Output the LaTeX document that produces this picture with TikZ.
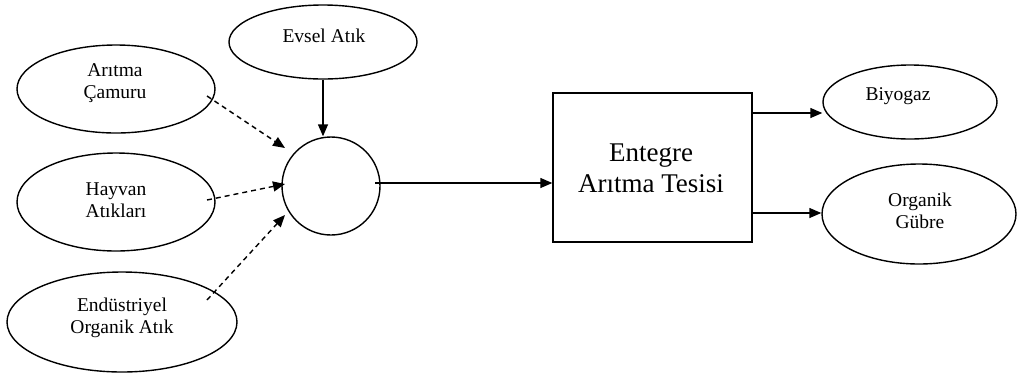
\documentclass[tikz,border=0pt]{standalone}
\usepackage{fontspec}
\setmainfont{Liberation Serif}
\usetikzlibrary{shapes.geometric,arrows.meta}
\tikzset{
  src/.style={draw, ellipse, inner sep=0pt, line width=1.4pt},
  lbl/.style={align=center, inner sep=0pt, font=\fontsize{19.5}{22}\selectfont},
  big/.style={align=center, inner sep=0pt, font=\fontsize{27}{31}\selectfont},
  flow/.style={line width=1.4pt, -{Triangle[length=12pt,width=10pt]}},
  feed/.style={flow, dash pattern=on 5pt off 4pt}
}
\begin{document}
\begin{tikzpicture}[x=1pt,y=-1pt]
\useasboundingbox (0,0) rectangle (1017,376);

% input sources
\node[src, minimum width=188pt, minimum height=74pt]  (evsel) at (323,42) {};
\node[src, minimum width=198pt, minimum height=88pt]  (cam)   at (116,89) {};
\node[src, minimum width=198pt, minimum height=98pt]  (hay)   at (116,202) {};
\node[src, minimum width=230pt, minimum height=100pt] (end)   at (122,322) {};

\node[lbl] (tevsel) at (324,36) {Evsel Atık};
\node[lbl] (tcam)   at (115,83) {Arıtma\\Çamuru};
\node[lbl] (thay)   at (116,200) {Hayvan\\Atıkları};
\node[lbl] (tend)   at (122,318) {Endüstriyel\\Organik Atık};

% mixing point
\node[draw, circle, line width=1.4pt, minimum size=98pt, inner sep=0pt] (mix) at (331,186) {};

% plant
\node[draw, line width=1.4pt, minimum width=199pt, minimum height=149pt, inner sep=0pt] (box) at (652.5,167.5) {};
\node[big] (tbox) at (651,168) {Entegre\\Arıtma Tesisi};

% products
\node[src, minimum width=174pt, minimum height=74pt]  (bio) at (910,102) {};
\node[src, minimum width=194pt, minimum height=100pt] (org) at (919,214) {};
\node[lbl] (tbio) at (898,96) {Biyogaz};
\node[lbl] (torg) at (920,211) {Organik\\Gübre};

% connector end points
\coordinate (camout) at (207,96);
\coordinate (camin)  at (285,148);
\coordinate (hayout) at (207,200);
\coordinate (hayin)  at (285,184);
\coordinate (endout) at (207,300);
\coordinate (endin)  at (285,215);
\coordinate (mixout) at (375,183);
\coordinate (bioy)   at (0,113);
\coordinate (orgy)   at (0,213);

% connectors
\draw[flow] (evsel.south) -- (evsel.south |- mix.north);
\draw[feed] (camout) -- (camin);
\draw[feed] (hayout) -- (hayin);
\draw[feed] (endout) -- (endin);
\draw[flow] (mixout) -- (mixout -| box.west);
\draw[flow] (box.east |- bioy) -- (bio.west |- bioy);
\draw[flow] (box.east |- orgy) -- (org.west |- orgy);
\end{tikzpicture}
\end{document}
